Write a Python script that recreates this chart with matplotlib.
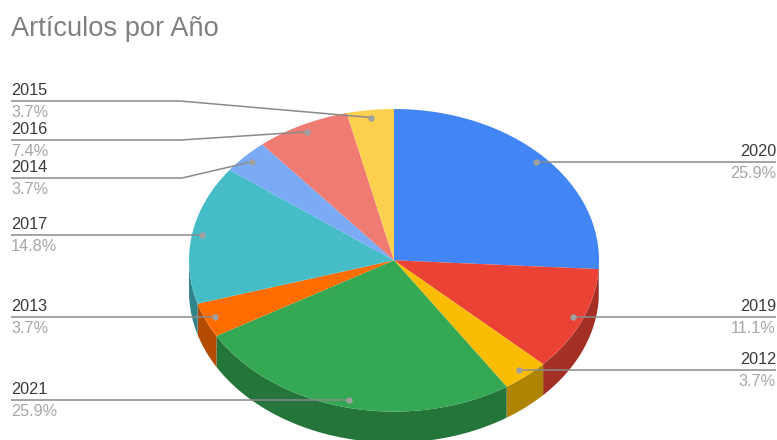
#!/usr/bin/env python3
"""Pie chart with a tilted 3D look: articles per year."""
import numpy as np
import matplotlib
matplotlib.use("Agg")
import matplotlib.pyplot as plt

plt.rcParams["font.family"] = ["Liberation Sans", "DejaVu Sans"]

years = ["2020", "2019", "2012", "2021", "2013", "2017", "2014", "2016", "2015"]
articles = [7, 3, 1, 7, 1, 4, 1, 2, 1]
colors = ["#4285f4", "#ea4335", "#fbbc04", "#34a853", "#ff6d01",
          "#46bdc6", "#7baaf7", "#f07b72", "#fcd04f"]
side_colors = ["#2e5daa", "#a42f25", "#b08403", "#24753a", "#b34c01",
               "#31848b", "#5677ad", "#a85650", "#b09237"]

W, H = 777, 440
CX, CY, RX, RY = 394, 260.3, 205, 151.3
DEPTH = 31

# left-hand labels sit on an elbow line, the x where the elbow bends (None = straight)
left_labels = {"2015": (101, 180), "2016": (140, 181), "2014": (178, 182),
               "2017": (235, None), "2013": (317, None), "2021": (400, None)}
right_labels = {"2020": 162, "2019": 317, "2012": 370}


def side_band(ax, a0, a1, color):
    # extruded rim, only the part of the wedge facing the viewer
    a0, a1 = max(a0, 90), min(a1, 270)
    if a1 <= a0:
        return
    t = np.radians(np.linspace(a0, a1, 80))
    x, y = np.sin(t), np.cos(t)
    d = DEPTH / RY
    ax.fill(np.r_[x, x[::-1]], np.r_[y, y[::-1] - d], color=color, lw=0, zorder=1)


fig = plt.figure(figsize=(W / 100, H / 100), dpi=100)

# pie axes: one unit is one radius, so the unequal scales squash the circle
ax = fig.add_axes([0, 0, 1, 1])
total = sum(articles)
edges = np.r_[0, np.cumsum(articles)] / total * 360
for a0, a1, c in zip(edges[:-1], edges[1:], side_colors):
    side_band(ax, a0, a1, c)
wedges, _ = ax.pie(articles, colors=colors, startangle=90, counterclock=False,
                   radius=1, wedgeprops={"linewidth": 0, "zorder": 2})
ax.set_aspect("auto")
ax.set_xlim(-CX / RX, (W - CX) / RX)
ax.set_ylim((CY - H) / RY, CY / RY)
ax.axis("off")

# overlay in pixel coordinates for the leaders and text
ov = fig.add_axes([0, 0, 1, 1], facecolor="none")
ov.set_xlim(0, W)
ov.set_ylim(H, 0)
ov.axis("off")

ov.text(11, 29, "Artículos por Año", fontsize=19.6, color="#808080",
        ha="left", va="center")

LINE = "#8a8a8a"
DOT = "#a0a0a0"
for i, year in enumerate(years):
    mid = np.radians((edges[i] + edges[i + 1]) / 2)
    ax_x = CX + 0.95 * RX * np.sin(mid)
    ax_y = CY - 0.95 * RY * np.cos(mid)
    pct = f"{articles[i] / total * 100:.1f}%"
    if year in left_labels:
        ly, bend = left_labels[year]
        if bend is None:
            xs, ys = [11, ax_x], [ly, ly]
        else:
            xs, ys = [11, bend, ax_x], [ly, ly, ax_y]
        tx, ha = 11, "left"
    else:
        ly = right_labels[year]
        xs, ys = [776, ax_x], [ly, ly]
        tx, ha = 776, "right"
    ov.plot(xs, ys, color=LINE, lw=1.1, solid_capstyle="butt", zorder=3)
    ov.plot([ax_x], [ys[-1]], "o", ms=4.6, color=DOT, mew=0, zorder=4)
    ov.text(tx, ly - 3, year, fontsize=11.7, color="#3a3a3a", ha=ha, va="bottom")
    ov.text(tx, ly + 4, pct, fontsize=11.7, color="#a6a6a6", ha=ha, va="top")

fig.savefig("out.png", dpi=100, facecolor="white")
